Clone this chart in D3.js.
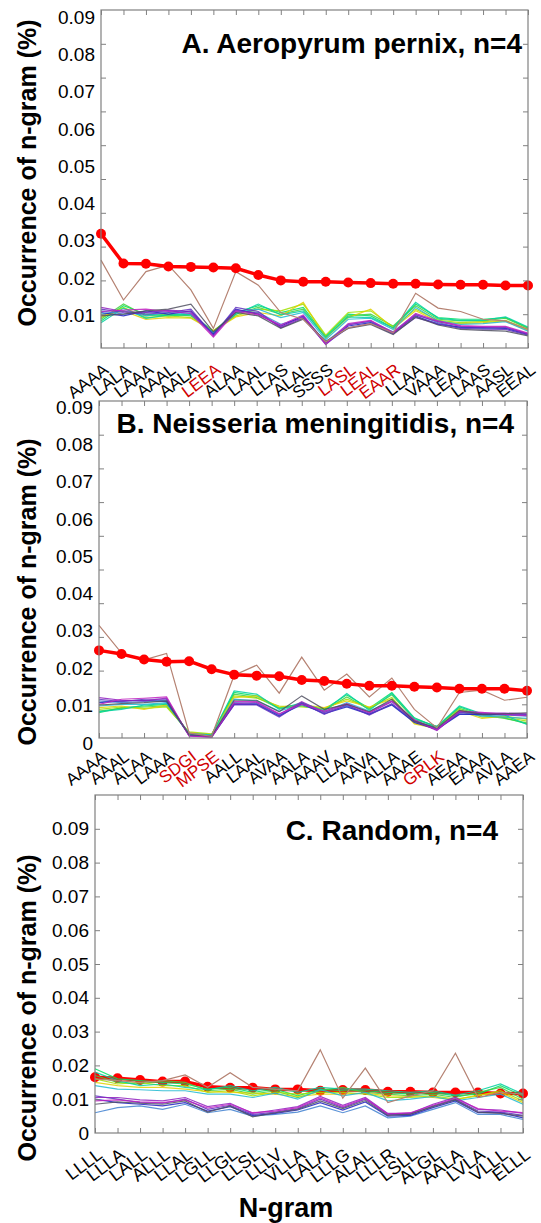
<!DOCTYPE html>
<html>
<head>
<meta charset="utf-8">
<script src="https://cdn.jsdelivr.net/npm/d3@7"></script>
<style>
  body { margin: 0; background: #fff; }
  svg { display: block; font-family: "Liberation Sans", Arial, sans-serif; }
</style>
</head>
<body>
<svg id="chart" width="541" height="1223"></svg>
<script>
// ---- data (occurrence of n-gram, %) ----
var catsA = ["AAAA","LALA","LAAA","AAAL","AALA","LEEA","ALAA","LAAL","LLAS","ALAL",
             "SSSS","LASL","LEAL","EAAR","LLAA","VAAA","LEAA","LAAS","AASL","EEAL"];
var catsB = ["AAAA","AAAL","ALAA","LAAA","SDGI","MPSE","AALL","LAAL","AVAA","AALA",
             "AAAV","LLAA","AAVA","ALLA","AAAE","GRLK","AEAA","EAAA","AVLA","AAEA"];
var catsC = ["LLLL","LLLA","LALL","ALLL","LLAL","LGLL","LLGL","LLSL","LLLV","VLLA",
             "LALA","LLLG","ALAL","LLLR","LSLL","ALGL","AALA","LVLA","VLLL","ELLL"];

// n-grams highlighted in red on the axis
var redCatsA = ["LEEA","LASL","LEAL","EAAR"];
var redCatsB = ["SDGI","MPSE","GRLK"];
var redCatsC = [];

// highlighted (thick red) series
var redA = [0.0338,0.0250,0.0249,0.0241,0.0240,0.0238,0.0236,0.0216,0.0200,0.0196,
            0.0196,0.0194,0.0192,0.0190,0.0190,0.0188,0.0187,0.0187,0.0185,0.0185];
var redB = [0.0260,0.0249,0.0233,0.0226,0.0228,0.0204,0.0188,0.0185,0.0183,0.0172,
            0.0169,0.0161,0.0155,0.0155,0.0152,0.0150,0.0146,0.0146,0.0146,0.0140];
var redC = [0.0165,0.0162,0.0157,0.0152,0.0152,0.0137,0.0134,0.0134,0.0129,0.0129,
            0.0125,0.0127,0.0127,0.0122,0.0122,0.0120,0.0120,0.0120,0.0117,0.0117];

// the one outlying thin series
var brownA = [0.0260,0.0142,0.0226,0.0245,0.0172,0.0058,0.0226,0.0186,0.0105,0.0085,
              0.0018,0.0060,0.0072,0.0045,0.0162,0.0118,0.0108,0.0085,0.0080,0.0055];
var brownB = [0.0334,0.0252,0.0232,0.0251,0.0015,0.0005,0.0186,0.0216,0.0133,0.0240,
              0.0142,0.0190,0.0122,0.0178,0.0085,0.0030,0.0135,0.0142,0.0112,0.0121];
var brownC = [0.0160,0.0155,0.0150,0.0155,0.0172,0.0135,0.0178,0.0135,0.0130,0.0125,
              0.0246,0.0103,0.0192,0.0090,0.0110,0.0125,0.0236,0.0105,0.0120,0.0115];

// the bundle of thin series
var thinA = [
  [0.0080,0.0125,0.0100,0.0095,0.0100,0.0050,0.0105,0.0125,0.0105,0.0120,0.0035,0.0100,0.0095,0.0060,0.0130,0.0090,0.0085,0.0085,0.0090,0.0060],
  [0.0085,0.0130,0.0095,0.0100,0.0095,0.0048,0.0100,0.0120,0.0100,0.0115,0.0030,0.0095,0.0100,0.0065,0.0125,0.0085,0.0080,0.0080,0.0088,0.0058],
  [0.0090,0.0120,0.0090,0.0095,0.0090,0.0052,0.0095,0.0115,0.0110,0.0130,0.0038,0.0105,0.0110,0.0062,0.0115,0.0082,0.0075,0.0078,0.0082,0.0055],
  [0.0095,0.0110,0.0085,0.0090,0.0088,0.0050,0.0092,0.0105,0.0095,0.0135,0.0030,0.0090,0.0115,0.0058,0.0110,0.0078,0.0072,0.0075,0.0080,0.0052],
  [0.0075,0.0118,0.0088,0.0098,0.0098,0.0046,0.0100,0.0130,0.0098,0.0110,0.0032,0.0092,0.0090,0.0060,0.0135,0.0088,0.0082,0.0082,0.0092,0.0062],
  [0.0100,0.0110,0.0095,0.0105,0.0100,0.0045,0.0105,0.0115,0.0090,0.0105,0.0025,0.0085,0.0088,0.0055,0.0120,0.0080,0.0070,0.0072,0.0078,0.0050],
  [0.0110,0.0100,0.0105,0.0110,0.0105,0.0042,0.0110,0.0105,0.0070,0.0090,0.0018,0.0070,0.0078,0.0048,0.0100,0.0075,0.0060,0.0058,0.0060,0.0042],
  [0.0105,0.0095,0.0110,0.0100,0.0110,0.0040,0.0115,0.0100,0.0065,0.0095,0.0015,0.0065,0.0075,0.0045,0.0095,0.0070,0.0062,0.0060,0.0058,0.0040],
  [0.0115,0.0105,0.0100,0.0105,0.0115,0.0038,0.0120,0.0108,0.0060,0.0088,0.0012,0.0060,0.0072,0.0042,0.0090,0.0072,0.0058,0.0056,0.0055,0.0038],
  [0.0120,0.0108,0.0105,0.0112,0.0108,0.0035,0.0112,0.0102,0.0062,0.0092,0.0010,0.0068,0.0080,0.0044,0.0098,0.0078,0.0064,0.0062,0.0062,0.0042],
  [0.0108,0.0112,0.0115,0.0108,0.0102,0.0032,0.0108,0.0098,0.0068,0.0098,0.0012,0.0072,0.0082,0.0046,0.0102,0.0080,0.0066,0.0064,0.0064,0.0044],
  [0.0095,0.0100,0.0110,0.0115,0.0130,0.0048,0.0105,0.0095,0.0058,0.0085,0.0020,0.0058,0.0070,0.0040,0.0092,0.0068,0.0055,0.0052,0.0050,0.0036]
];
var thinB = [
  [0.0075,0.0090,0.0095,0.0100,0.0012,0.0008,0.0135,0.0125,0.0090,0.0100,0.0085,0.0128,0.0088,0.0135,0.0060,0.0032,0.0092,0.0070,0.0060,0.0042],
  [0.0080,0.0088,0.0092,0.0095,0.0015,0.0010,0.0130,0.0120,0.0088,0.0095,0.0082,0.0122,0.0085,0.0128,0.0055,0.0035,0.0088,0.0068,0.0058,0.0045],
  [0.0085,0.0092,0.0088,0.0092,0.0018,0.0012,0.0125,0.0118,0.0095,0.0092,0.0088,0.0115,0.0090,0.0120,0.0045,0.0030,0.0085,0.0062,0.0062,0.0050],
  [0.0090,0.0095,0.0085,0.0098,0.0015,0.0010,0.0120,0.0125,0.0092,0.0098,0.0090,0.0110,0.0092,0.0115,0.0042,0.0028,0.0080,0.0058,0.0065,0.0055],
  [0.0078,0.0085,0.0098,0.0102,0.0014,0.0009,0.0140,0.0130,0.0085,0.0105,0.0080,0.0132,0.0082,0.0132,0.0058,0.0034,0.0095,0.0072,0.0068,0.0040],
  [0.0095,0.0100,0.0100,0.0105,0.0012,0.0008,0.0115,0.0110,0.0080,0.0100,0.0078,0.0105,0.0080,0.0110,0.0052,0.0030,0.0078,0.0065,0.0062,0.0058],
  [0.0110,0.0105,0.0108,0.0112,0.0010,0.0005,0.0105,0.0102,0.0068,0.0098,0.0075,0.0095,0.0072,0.0100,0.0048,0.0028,0.0072,0.0068,0.0068,0.0065],
  [0.0105,0.0110,0.0112,0.0108,0.0008,0.0004,0.0100,0.0100,0.0065,0.0102,0.0072,0.0092,0.0070,0.0098,0.0046,0.0026,0.0070,0.0070,0.0070,0.0068],
  [0.0115,0.0108,0.0115,0.0115,0.0008,0.0003,0.0098,0.0098,0.0062,0.0105,0.0070,0.0098,0.0068,0.0102,0.0050,0.0025,0.0075,0.0072,0.0072,0.0070],
  [0.0120,0.0112,0.0110,0.0118,0.0006,0.0002,0.0102,0.0105,0.0070,0.0108,0.0076,0.0100,0.0074,0.0108,0.0052,0.0022,0.0078,0.0074,0.0074,0.0072],
  [0.0100,0.0115,0.0118,0.0122,0.0006,0.0003,0.0108,0.0108,0.0072,0.0100,0.0080,0.0102,0.0076,0.0110,0.0054,0.0024,0.0080,0.0076,0.0070,0.0066],
  [0.0098,0.0102,0.0105,0.0110,0.0010,0.0006,0.0112,0.0112,0.0078,0.0125,0.0085,0.0100,0.0078,0.0115,0.0050,0.0030,0.0082,0.0070,0.0072,0.0075]
];
var thinC = [
  [0.0190,0.0160,0.0155,0.0150,0.0145,0.0130,0.0135,0.0120,0.0130,0.0110,0.0130,0.0125,0.0125,0.0120,0.0115,0.0120,0.0110,0.0115,0.0140,0.0110],
  [0.0170,0.0150,0.0145,0.0155,0.0150,0.0125,0.0130,0.0115,0.0125,0.0105,0.0125,0.0135,0.0120,0.0115,0.0110,0.0115,0.0105,0.0120,0.0135,0.0100],
  [0.0160,0.0145,0.0150,0.0140,0.0140,0.0120,0.0125,0.0110,0.0120,0.0115,0.0120,0.0120,0.0115,0.0105,0.0105,0.0110,0.0100,0.0110,0.0125,0.0095],
  [0.0150,0.0140,0.0135,0.0135,0.0130,0.0122,0.0120,0.0118,0.0115,0.0108,0.0115,0.0115,0.0118,0.0110,0.0108,0.0105,0.0098,0.0112,0.0120,0.0090],
  [0.0180,0.0155,0.0140,0.0145,0.0135,0.0128,0.0140,0.0125,0.0135,0.0120,0.0135,0.0130,0.0130,0.0125,0.0120,0.0125,0.0112,0.0125,0.0145,0.0115],
  [0.0140,0.0130,0.0128,0.0125,0.0125,0.0115,0.0115,0.0105,0.0118,0.0100,0.0128,0.0110,0.0120,0.0095,0.0100,0.0108,0.0095,0.0105,0.0115,0.0085],
  [0.0060,0.0075,0.0080,0.0070,0.0085,0.0060,0.0070,0.0050,0.0055,0.0062,0.0080,0.0060,0.0080,0.0045,0.0050,0.0070,0.0090,0.0055,0.0055,0.0040],
  [0.0100,0.0090,0.0085,0.0080,0.0090,0.0065,0.0078,0.0052,0.0058,0.0068,0.0090,0.0068,0.0092,0.0050,0.0052,0.0075,0.0095,0.0060,0.0060,0.0045],
  [0.0110,0.0100,0.0090,0.0088,0.0100,0.0070,0.0082,0.0055,0.0062,0.0072,0.0100,0.0075,0.0100,0.0055,0.0055,0.0080,0.0100,0.0065,0.0062,0.0052],
  [0.0105,0.0105,0.0098,0.0095,0.0105,0.0078,0.0088,0.0058,0.0068,0.0078,0.0108,0.0082,0.0105,0.0058,0.0058,0.0085,0.0105,0.0070,0.0068,0.0058],
  [0.0095,0.0098,0.0092,0.0090,0.0098,0.0074,0.0085,0.0060,0.0065,0.0075,0.0104,0.0078,0.0102,0.0056,0.0060,0.0082,0.0102,0.0072,0.0065,0.0060],
  [0.0085,0.0092,0.0088,0.0085,0.0095,0.0062,0.0080,0.0048,0.0060,0.0070,0.0095,0.0072,0.0096,0.0052,0.0056,0.0078,0.0098,0.0062,0.0058,0.0050]
];

var yTicks = [0.01,0.02,0.03,0.04,0.05,0.06,0.07,0.08,0.09];

// ---- styles / layout ----
var thinColors = ["#00e060","#40d040","#a0e000","#e0d000","#00d0a0","#20b8d0",
                  "#4080d0","#2020c0","#6030c0","#9020c0","#c020c0","#505060"];
var brownColor = "#b58272";
var redColor = "#ff0000";
var frameColor = "#808080";

var panels = [
  {title: "A. Aeropyrum pernix, n=4", cats: catsA, red: redA, brown: brownA, thin: thinA, hot: redCatsA,
   left: 101, right: 528, top: 10, bottom: 348, titleX: 522, titleY: 53, yTitleY: 173,
   labelStep: 37.25, zeroLabel: false, xlabDy: 24, xlabSize: 17, redOnTop: true},
  {title: "B. Neisseria meningitidis, n=4", cats: catsB, red: redB, brown: brownB, thin: thinB, hot: redCatsB,
   left: 99, right: 527, top: 401, bottom: 738, titleX: 514, titleY: 433, yTitleY: 592,
   labelStep: 37.25, zeroLabel: true, xlabDy: 21, xlabSize: 17, redOnTop: true},
  {title: "C. Random, n=4", cats: catsC, red: redC, brown: brownC, thin: thinC, hot: redCatsC,
   left: 95, right: 523, top: 795, bottom: 1133, titleX: 498, titleY: 840, yTitleY: 1008,
   labelStep: null, zeroLabel: true, xlabDy: 24, xlabSize: 18, redOnTop: false}
];

var svg = d3.select("#chart");

panels.forEach(function(p) {
  var g = svg.append("g");

  var x = d3.scalePoint().domain(p.cats).range([p.left, p.right]);
  var y = d3.scaleLinear().domain([0, 0.1]).range([p.bottom, p.top]);

  // tick labels in A and B were pasted on at a slightly larger pitch than the ticks
  var yLab;
  if (p.labelStep) {
    yLab = d3.scaleLinear()
      .domain([0, 0.01, 0.09])
      .range([y(0) + 5, y(0.01) + 1, y(0.01) + 1 - 8 * p.labelStep]);
  } else {
    yLab = y;
  }

  var line = d3.line()
    .x(function(d, i) { return x(p.cats[i]); })
    .y(function(d) { return y(d); });

  function drawThin() {
    g.append("g").selectAll("path")
      .data(p.thin)
      .enter().append("path")
        .attr("d", line)
        .attr("fill", "none")
        .attr("stroke", function(d, i) { return thinColors[i % thinColors.length]; })
        .attr("stroke-width", 1.2)
        .attr("stroke-opacity", 0.85);
    g.append("path")
      .attr("d", line(p.brown))
      .attr("fill", "none")
      .attr("stroke", brownColor)
      .attr("stroke-width", 1.2);
  }

  function drawRed() {
    var rg = g.append("g");
    rg.append("path")
      .attr("d", line(p.red))
      .attr("fill", "none")
      .attr("stroke", redColor)
      .attr("stroke-width", 3.5)
      .attr("stroke-linejoin", "round");
    rg.selectAll("circle")
      .data(p.red)
      .enter().append("circle")
        .attr("cx", function(d, i) { return x(p.cats[i]); })
        .attr("cy", function(d) { return y(d); })
        .attr("r", 5)
        .attr("fill", redColor);
  }

  if (p.redOnTop) { drawThin(); drawRed(); }
  else { drawRed(); drawThin(); }

  // frame + inward ticks on all four sides
  g.append("rect")
    .attr("x", p.left).attr("y", p.top)
    .attr("width", p.right - p.left).attr("height", p.bottom - p.top)
    .attr("fill", "none").attr("stroke", frameColor).attr("stroke-width", 1.2);

  var tickAxes = [
    {ax: d3.axisBottom(x), t: "translate(0," + p.bottom + ")"},
    {ax: d3.axisTop(x), t: "translate(0," + p.top + ")"},
    {ax: d3.axisLeft(y).tickValues(yTicks), t: "translate(" + p.left + ",0)"},
    {ax: d3.axisRight(y).tickValues(yTicks), t: "translate(" + p.right + ",0)"}
  ];
  tickAxes.forEach(function(a) {
    var tg = g.append("g").attr("transform", a.t)
      .call(a.ax.tickSize(-5).tickFormat(""));
    tg.select(".domain").remove();
    tg.selectAll("line").attr("stroke", frameColor);
  });

  // y tick labels
  var labVals = (p.zeroLabel ? [0] : []).concat(yTicks);
  var yl = g.append("g")
    .attr("transform", "translate(" + (p.left - 4) + ",0)")
    .call(d3.axisLeft(yLab).tickValues(labVals).tickSize(0).tickPadding(2)
      .tickFormat(function(d) { return d === 0 ? "0" : d3.format(".2f")(d); }));
  yl.select(".domain").remove();
  yl.selectAll("text")
    .attr("font-size", 19)
    .attr("font-family", "Liberation Sans, Arial, sans-serif")
    .attr("fill", "#000");

  // rotated n-gram labels
  var xl = g.append("g")
    .attr("transform", "translate(0," + p.bottom + ")")
    .call(d3.axisBottom(x).tickSize(0));
  xl.select(".domain").remove();
  xl.selectAll("text")
    .attr("y", 0).attr("dy", 0)
    .attr("text-anchor", "end")
    .attr("transform", "translate(8," + p.xlabDy + ") rotate(-37)")
    .attr("font-size", p.xlabSize)
    .attr("font-family", "Liberation Sans, Arial, sans-serif")
    .attr("fill", function(d) { return p.hot.indexOf(d) >= 0 ? "#d00000" : "#000"; });

  // panel title
  g.append("text")
    .attr("x", p.titleX).attr("y", p.titleY)
    .attr("text-anchor", "end")
    .attr("font-size", 28).attr("font-weight", "bold")
    .text(p.title);

  // y axis title
  g.append("text")
    .attr("transform", "translate(36," + p.yTitleY + ") rotate(-90)")
    .attr("text-anchor", "middle")
    .attr("font-size", 25).attr("font-weight", "bold")
    .text("Occurrence of n-gram (%)");
});

svg.append("text")
  .attr("x", 286).attr("y", 1217)
  .attr("text-anchor", "middle")
  .attr("font-size", 27).attr("font-weight", "bold")
  .text("N-gram");
</script>
</body>
</html>
